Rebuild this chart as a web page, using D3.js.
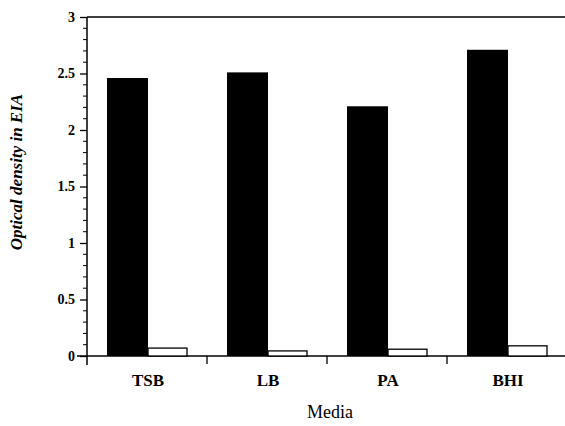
<!DOCTYPE html>
<html><head><meta charset="utf-8">
<script src="https://cdn.jsdelivr.net/npm/d3@7"></script>
<style>body{margin:0;background:#fff}svg{display:block}text{font-family:"Liberation Serif","DejaVu Serif",serif}</style>
</head><body>
<script>
const categories = ["TSB", "LB", "PA", "BHI"];
const seriesNames = ["positive", "negative"];
const positive = [2.46, 2.51, 2.21, 2.71];
const negative = [0.07, 0.045, 0.06, 0.09];
const yTicks = [0, 0.5, 1, 1.5, 2, 2.5, 3];
const yTickLabels = ["0", "0.5", "1", "1.5", "2", "2.5", "3"];

const W = 565, H = 426;
const svg = d3.select("body").append("svg").attr("width", W).attr("height", H);
const m = {left: 87, top: 17, bottom: 356};
const x = d3.scaleBand().domain(categories).range([87, 567]);
const y = d3.scaleLinear().domain([0, 3]).range([m.bottom, m.top]);
const bw = 41, off = 20;

// top border
svg.append("line").attr("x1", 87).attr("x2", W).attr("y1", y(3)).attr("y2", y(3)).attr("stroke", "#000").attr("stroke-width", 1.5);
// baseline
svg.append("line").attr("x1", 77).attr("x2", W).attr("y1", y(0)).attr("y2", y(0)).attr("stroke", "#000").attr("stroke-width", 1.5);

// bars
const g = svg.append("g");
categories.forEach((c, i) => {
  g.append("rect").attr("x", x(c) + off).attr("width", bw)
    .attr("y", y(positive[i])).attr("height", y(0) - y(positive[i])).attr("fill", "#000");
  g.append("rect").attr("x", x(c) + off + bw).attr("width", bw - 2)
    .attr("y", y(negative[i])).attr("height", y(0) - y(negative[i]))
    .attr("fill", "#fff").attr("stroke", "#000").attr("stroke-width", 1.3);
});

// y axis
const ya = d3.axisLeft(y).tickValues(yTicks).tickFormat((d, i) => yTickLabels[i]).tickSize(7).tickPadding(5);
const yg = svg.append("g").attr("transform", `translate(${m.left},0)`).call(ya);
yg.select(".domain").remove();
yg.selectAll("line").attr("stroke-width", 1.3);
yg.selectAll("text").attr("font-size", 14).attr("font-weight", "bold").attr("fill", "#000");
const minor = d3.range(0, 3.001, 0.1).filter(v => Math.abs(v * 2 - Math.round(v * 2)) > 1e-6);
yg.selectAll(".minor").data(minor).enter().append("line")
  .attr("x1", -4).attr("x2", 0).attr("y1", d => y(d)).attr("y2", d => y(d)).attr("stroke", "#000");
svg.append("line").attr("x1", m.left).attr("x2", m.left).attr("y1", y(3)).attr("y2", y(0) + 9).attr("stroke", "#000").attr("stroke-width", 1.5);

// x ticks at band boundaries
svg.selectAll(".xt").data(categories.slice(1)).enter().append("line")
  .attr("x1", d => x(d)).attr("x2", d => x(d)).attr("y1", y(0)).attr("y2", y(0) + 8).attr("stroke", "#000").attr("stroke-width", 1.3);

// category labels
svg.selectAll(".cl").data(categories).enter().append("text")
  .attr("x", d => x(d) + off + bw).attr("y", 386).attr("text-anchor", "middle")
  .attr("font-size", 17).attr("font-weight", "bold").text(d => d);

// axis titles
svg.append("text").attr("x", 330).attr("y", 418).attr("text-anchor", "middle").attr("font-size", 18).text("Media");
svg.append("text").attr("transform", "translate(22,172) rotate(-90)").attr("text-anchor", "middle")
  .attr("font-size", 17).attr("font-weight", "bold").attr("font-style", "italic").text("Optical density in EIA");
</script>
</body></html>
